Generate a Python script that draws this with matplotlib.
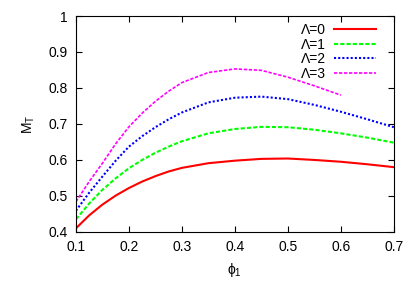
import numpy as np
import matplotlib
matplotlib.use("Agg")
import matplotlib.pyplot as plt

plt.rcParams['font.family'] = ['Liberation Sans', 'DejaVu Sans']
plt.rcParams['mathtext.fontset'] = 'custom'
plt.rcParams['mathtext.rm'] = 'Liberation Sans'

# phi_1 values
phi = [0.1, 0.125, 0.15, 0.175, 0.2, 0.225, 0.25, 0.275, 0.3, 0.35, 0.4, 0.45, 0.5, 0.55, 0.6, 0.65, 0.7]
m_lam0 = [0.41, 0.446, 0.476, 0.501, 0.522, 0.540, 0.555, 0.568, 0.578, 0.591, 0.598, 0.603, 0.604, 0.600, 0.595, 0.588, 0.580]
m_lam1 = [0.435, 0.479, 0.517, 0.549, 0.577, 0.600, 0.620, 0.637, 0.652, 0.674, 0.686, 0.692, 0.691, 0.684, 0.674, 0.662, 0.648]
m_lam2 = [0.459, 0.509, 0.554, 0.598, 0.637, 0.666, 0.691, 0.713, 0.732, 0.760, 0.773, 0.776, 0.769, 0.753, 0.734, 0.713, 0.691]
phi3 = [0.1, 0.125, 0.15, 0.175, 0.2, 0.225, 0.25, 0.275, 0.3, 0.35, 0.4, 0.45, 0.5, 0.55, 0.6]
m_lam3 = [0.484, 0.540, 0.591, 0.645, 0.692, 0.730, 0.763, 0.791, 0.815, 0.843, 0.853, 0.849, 0.830, 0.806, 0.780]

fig = plt.figure(figsize=(4.15, 2.91), dpi=100)
ax = fig.add_axes([0.183, 0.203, 0.766, 0.742])

ax.plot(phi, m_lam0, color='#ff0000', lw=1.5, ls='-', label='Λ=0')
ax.plot(phi, m_lam1, color='#00ff00', lw=1.5, ls=(0, (2, 1)), label='Λ=1')
ax.plot(phi, m_lam2, color='#0000ff', lw=1.5, ls=(0, (1, 1)), label='Λ=2')
ax.plot(phi3, m_lam3, color='#ff00ff', lw=1.2, ls=(0, (2, 1)), label='Λ=3')

ax.set_xlim(0.1, 0.7)
ax.set_ylim(0.4, 1.0)
ax.set_xticks(np.arange(0.1, 0.71, 0.1))
ax.set_yticks(np.arange(0.4, 1.01, 0.1))
ax.set_xticklabels(['0.1', '0.2', '0.3', '0.4', '0.5', '0.6', '0.7'])
ax.set_yticklabels(['0.4', '0.5', '0.6', '0.7', '0.8', '0.9', '1'])
ax.tick_params(direction='in', top=True, right=True, length=4, labelsize=10, pad=6)

ax.set_xlabel('ϕ$_1$', fontsize=10, labelpad=5)
ax.set_ylabel('M$_\\mathrm{T}$', fontsize=10, labelpad=8)

ax.legend(loc='upper right', bbox_to_anchor=(0.965, 1.0), frameon=False, markerfirst=False,
          fontsize=10, handlelength=3.0, labelspacing=0.05, borderaxespad=0.1, handletextpad=0.6)

fig.savefig('out.png', dpi=100)
